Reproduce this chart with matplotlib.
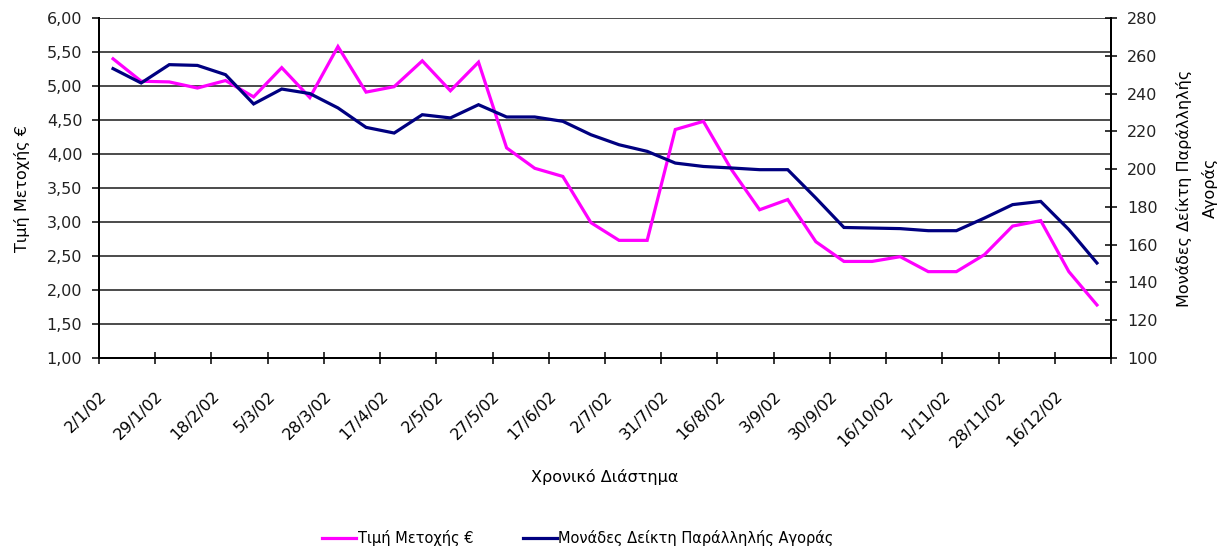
import matplotlib
matplotlib.use("Agg")
import matplotlib.pyplot as plt
import matplotlib.transforms as mtransforms
from matplotlib.lines import Line2D

plt.rcParams['font.family'] = ['DejaVu Sans']

# ---- data ----
date_labels = ["2/1/02", "29/1/02", "18/2/02", "5/3/02", "28/3/02", "17/4/02",
               "2/5/02", "27/5/02", "17/6/02", "2/7/02", "31/7/02", "16/8/02",
               "3/9/02", "30/9/02", "16/10/02", "1/11/02", "28/11/02", "16/12/02"]

share_price = [5.40, 5.07, 5.06, 4.97, 5.08, 4.84, 5.27, 4.83, 5.58, 4.91,
               4.99, 5.37, 4.93, 5.35, 4.09, 3.79, 3.67, 2.99, 2.73, 2.73,
               4.36, 4.48, 3.77, 3.18, 3.33, 2.71, 2.42, 2.42, 2.49, 2.27,
               2.27, 2.52, 2.94, 3.02, 2.27, 1.78]

index_points = [253.2, 245.6, 255.3, 254.9, 250.0, 234.5, 242.4, 240.0, 232.4, 222.1,
                219.1, 228.8, 227.1, 234.1, 227.6, 227.6, 225.3, 218.2, 212.9, 209.4,
                203.2, 201.4, 200.6, 199.7, 199.7, 184.7, 169.1, 168.8, 168.5, 167.4,
                167.4, 174.1, 181.2, 182.9, 168.0, 150.3]

name_price = "Τιμή Μετοχής €"
name_index = "Μονάδες Δείκτη Παράλληλής Αγοράς"
left_ticks = [1.00, 1.50, 2.00, 2.50, 3.00, 3.50, 4.00, 4.50, 5.00, 5.50, 6.00]
right_ticks = [100, 120, 140, 160, 180, 200, 220, 240, 260, 280]

PINK = "#FF00FF"
NAVY = "#000080"
FS = 11.5

W, H = 1228, 556
fig = plt.figure(figsize=(W / 100, H / 100), dpi=100)
ax = fig.add_axes([99 / W, 1 - 358 / H, (1111 - 99) / W, (358 - 18) / H])
ax2 = ax.twinx()

x = list(range(len(share_price)))
ax.plot(x, share_price, color=PINK, lw=2.3, solid_joinstyle='miter', zorder=3)
ax2.plot(x, index_points, color=NAVY, lw=2.3, solid_joinstyle='miter', zorder=3)

ax.set_xlim(-0.5, len(x) - 0.5)
ax.set_ylim(1.0, 6.0)
ax2.set_ylim(100, 280)

# gridlines
ax.set_yticks(left_ticks)
ax.set_yticklabels([f"{v:.2f}".replace('.', ',') for v in left_ticks], fontsize=FS)
ax.yaxis.grid(True, color='#1a1a1a', lw=1.1)
ax.set_axisbelow(True)

ax2.set_yticks(right_ticks)
ax2.set_yticklabels([str(v) for v in right_ticks], fontsize=FS)

# x ticks at category boundaries every 2 categories
bounds = [-0.5 + 2 * k for k in range(len(date_labels) + 1)]
ax.set_xticks(bounds)
ax.set_xticklabels(date_labels + [""], fontsize=FS, rotation=45,
                   ha='right', va='top', rotation_mode='anchor')
offset = mtransforms.ScaledTranslation(4 / 100, 0, fig.dpi_scale_trans)
for lbl in ax.get_xticklabels():
    lbl.set_transform(lbl.get_transform() + offset)

for a in (ax, ax2):
    a.spines['top'].set_visible(False)
    a.spines['left'].set_linewidth(1.4)
    a.spines['right'].set_linewidth(1.4)
    a.spines['bottom'].set_linewidth(1.4)
ax.tick_params(axis='x', direction='inout', length=8, width=1.1, pad=18)
ax.tick_params(axis='y', direction='out', length=5, width=1.1, pad=7)
ax2.tick_params(axis='y', direction='inout', length=8, width=1.1, pad=7.5)
for lbl in ax.get_yticklabels() + ax2.get_yticklabels():
    lbl.set_color('#222222')

ax.set_xlabel("Χρονικό Διάστημα", fontsize=FS, labelpad=14)
ax.set_ylabel(name_price, fontsize=FS, labelpad=12)
ax2.set_ylabel("Μονάδες Δείκτη Παράλληλής\nΑγοράς", fontsize=FS, labelpad=13,
               linespacing=1.8)

handles = [Line2D([0], [0], color=PINK, lw=2.3), Line2D([0], [0], color=NAVY, lw=2.3)]
fig.legend(handles, [name_price, name_index], loc='center',
           bbox_to_anchor=(578 / W, 1 - 538 / H), ncol=2, frameon=False,
           fontsize=10.5, handlelength=2.33, handletextpad=0.1, columnspacing=3.4)

fig.savefig("out.png", dpi=100, facecolor='white')
